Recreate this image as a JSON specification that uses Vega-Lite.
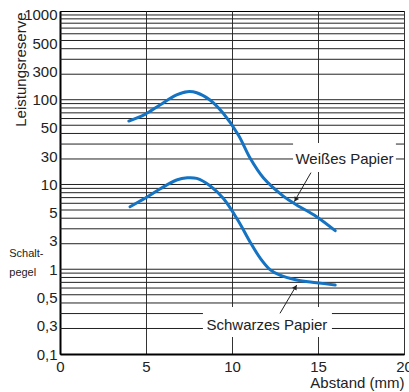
{
  "$schema": "https://vega.github.io/schema/vega-lite/v6.json",
  "width": 344,
  "height": 343,
  "autosize": {"type": "none"},
  "padding": {"left": 60, "top": 11, "right": 5, "bottom": 38},
  "background": "white",
  "config": {
    "font": "Liberation Sans",
    "view": {"stroke": "black", "strokeWidth": 1},
    "axis": {"labelFont": "Liberation Sans", "titleFont": "Liberation Sans", "labelColor": "#222", "titleColor": "#222", "titleFontWeight": "normal"}
  },
  "datasets": {
    "curves": [
      {"serie": "Weißes Papier", "x": 4.0, "y": 56},
      {"serie": "Weißes Papier", "x": 4.94, "y": 67.3},
      {"serie": "Weißes Papier", "x": 5.81, "y": 86.7},
      {"serie": "Weißes Papier", "x": 6.78, "y": 113.8},
      {"serie": "Weißes Papier", "x": 7.4, "y": 124.5},
      {"serie": "Weißes Papier", "x": 7.95, "y": 121},
      {"serie": "Weißes Papier", "x": 8.72, "y": 99.4},
      {"serie": "Weißes Papier", "x": 9.49, "y": 69.2},
      {"serie": "Weißes Papier", "x": 10.37, "y": 38.4},
      {"serie": "Weißes Papier", "x": 11.05, "y": 20.5},
      {"serie": "Weißes Papier", "x": 11.82, "y": 12.0},
      {"serie": "Weißes Papier", "x": 12.98, "y": 7.3},
      {"serie": "Weißes Papier", "x": 13.76, "y": 5.73},
      {"serie": "Weißes Papier", "x": 14.92, "y": 4.17},
      {"serie": "Weißes Papier", "x": 16.0, "y": 2.85},
      {"serie": "Schwarzes Papier", "x": 4.07, "y": 5.47},
      {"serie": "Schwarzes Papier", "x": 4.94, "y": 6.88},
      {"serie": "Schwarzes Papier", "x": 5.81, "y": 8.85},
      {"serie": "Schwarzes Papier", "x": 6.78, "y": 11.3},
      {"serie": "Schwarzes Papier", "x": 7.4, "y": 12.0},
      {"serie": "Schwarzes Papier", "x": 7.95, "y": 11.8},
      {"serie": "Schwarzes Papier", "x": 8.72, "y": 9.68},
      {"serie": "Schwarzes Papier", "x": 9.49, "y": 6.88},
      {"serie": "Schwarzes Papier", "x": 10.37, "y": 3.71},
      {"serie": "Schwarzes Papier", "x": 11.05, "y": 2.1},
      {"serie": "Schwarzes Papier", "x": 11.63, "y": 1.36},
      {"serie": "Schwarzes Papier", "x": 12.21, "y": 0.99},
      {"serie": "Schwarzes Papier", "x": 12.79, "y": 0.85},
      {"serie": "Schwarzes Papier", "x": 13.76, "y": 0.746},
      {"serie": "Schwarzes Papier", "x": 14.92, "y": 0.694},
      {"serie": "Schwarzes Papier", "x": 16.0, "y": 0.652}
    ],
    "grid": [
      {"y": 0.2}, {"y": 0.3}, {"y": 0.4}, {"y": 0.5}, {"y": 0.6}, {"y": 0.7}, {"y": 0.8}, {"y": 0.9},
      {"y": 1}, {"y": 2}, {"y": 3}, {"y": 4}, {"y": 5}, {"y": 6}, {"y": 7}, {"y": 8}, {"y": 9},
      {"y": 10}, {"y": 20}, {"y": 30}, {"y": 40}, {"y": 50}, {"y": 60}, {"y": 70}, {"y": 80}, {"y": 90},
      {"y": 100}, {"y": 200}, {"y": 300}, {"y": 400}, {"y": 500}, {"y": 600}, {"y": 700}, {"y": 800}, {"y": 900},
      {"y": 1000}
    ],
    "labels": [
      {"text": "Weißes Papier", "x": 16.54, "y": 20, "bx": 13.55, "bx2": 19.53, "by": 30.9, "by2": 14.0, "ax": 14.59, "ay": 13.8, "ax2": 13.62, "ay2": 6.27},
      {"text": "Schwarzes Papier", "x": 12.03, "y": 0.22, "bx": 8.31, "bx2": 15.81, "by": 0.359, "by2": 0.159, "ax": 12.79, "ay": 0.302, "ax2": 13.76, "ay2": 0.652}
    ]
  },
  "encoding": {
    "x": {"type": "quantitative"},
    "y": {"type": "quantitative"}
  },
  "layer": [
    {
      "data": {"name": "grid"},
      "mark": {"type": "rule", "color": "#222", "strokeWidth": 1},
      "encoding": {
        "y": {"field": "y", "type": "quantitative",
          "scale": {"type": "log", "domain": [0.1, 1114], "nice": false, "zero": false},
          "axis": {
            "title": "Leistungsreserve",
            "titleFontSize": 15,
            "titleAngle": -90,
            "titleAlign": "right",
            "titleBaseline": "middle",
            "titleX": -40,
            "titleY": 1,
            "values": [0.1, 0.21544, 0.46416, 1, 2.1544, 4.6416, 10, 21.544, 46.416, 100, 215.44, 464.16, 1000],
            "labelExpr": "datum.value < 0.15 ? '0,1' : datum.value < 0.3 ? '0,3' : datum.value < 0.7 ? '0,5' : datum.value < 1.5 ? '1' : datum.value < 3 ? '3' : datum.value < 7 ? '5' : datum.value < 15 ? '10' : datum.value < 30 ? '30' : datum.value < 70 ? '50' : datum.value < 150 ? '100' : datum.value < 300 ? '300' : datum.value < 700 ? '500' : '1000'",
            "labelFontSize": 15,
            "labelPadding": 3,
            "labelFlush": false,
            "labelOverlap": false,
            "ticks": false,
            "grid": false,
            "domainColor": "black",
            "domainWidth": 2
          }
        }
      }
    },
    {
      "data": {"name": "labels"},
      "mark": {"type": "rect", "fill": "white", "stroke": null},
      "encoding": {
        "x": {"field": "bx", "type": "quantitative",
          "scale": {"domain": [0, 20], "nice": false, "zero": false},
          "axis": {
            "title": "Abstand (mm)",
            "titleFontSize": 15,
            "titleAlign": "right",
            "titleAnchor": "end",
            "titleX": 344,
            "titleY": 33,
            "titleBaseline": "alphabetic",
            "values": [0, 5, 10, 15, 20],
            "labelFontSize": 15,
            "labelPadding": 5,
            "labelFlush": false,
            "ticks": false,
            "grid": true,
            "gridColor": "#333",
            "gridWidth": 1,
            "domainColor": "black",
            "domainWidth": 2
          }
        },
        "x2": {"field": "bx2"},
        "y": {"field": "by", "type": "quantitative"},
        "y2": {"field": "by2"}
      }
    },
    {
      "data": {"name": "curves"},
      "mark": {"type": "line", "interpolate": "catmull-rom", "color": "#1473c2", "strokeWidth": 3, "strokeCap": "round"},
      "encoding": {
        "x": {"field": "x", "type": "quantitative"},
        "y": {"field": "y", "type": "quantitative"},
        "detail": {"field": "serie"}
      }
    },
    {
      "data": {"name": "labels"},
      "mark": {"type": "rule", "color": "#222", "strokeWidth": 1},
      "encoding": {
        "x": {"field": "ax", "type": "quantitative"},
        "y": {"field": "ay", "type": "quantitative"},
        "x2": {"field": "ax2"},
        "y2": {"field": "ay2"}
      }
    },
    {
      "data": {"values": [{"x": 13.7, "y": 6.63}]},
      "mark": {"type": "point", "shape": "triangle-up", "filled": true, "color": "#222", "size": 28, "angle": 211, "opacity": 1},
      "encoding": {
        "x": {"field": "x", "type": "quantitative"},
        "y": {"field": "y", "type": "quantitative"}
      }
    },
    {
      "data": {"values": [{"x": 13.69, "y": 0.614}]},
      "mark": {"type": "point", "shape": "triangle-up", "filled": true, "color": "#222", "size": 28, "angle": 30.5, "opacity": 1},
      "encoding": {
        "x": {"field": "x", "type": "quantitative"},
        "y": {"field": "y", "type": "quantitative"}
      }
    },
    {
      "data": {"name": "labels"},
      "mark": {"type": "text", "fontSize": 15, "font": "Liberation Sans", "color": "#222", "align": "center", "baseline": "middle"},
      "encoding": {
        "x": {"field": "x", "type": "quantitative"},
        "y": {"field": "y", "type": "quantitative"},
        "text": {"field": "text"}
      }
    },
    {
      "data": {"values": [{"t": "Schalt-", "x": -2.95, "y": 1.51}, {"t": "pegel", "x": -2.95, "y": 0.9}]},
      "mark": {"type": "text", "fontSize": 11, "font": "Liberation Sans", "color": "#222", "align": "left", "baseline": "middle", "clip": false},
      "encoding": {
        "x": {"field": "x", "type": "quantitative"},
        "y": {"field": "y", "type": "quantitative"},
        "text": {"field": "t"}
      }
    }
  ]
}
